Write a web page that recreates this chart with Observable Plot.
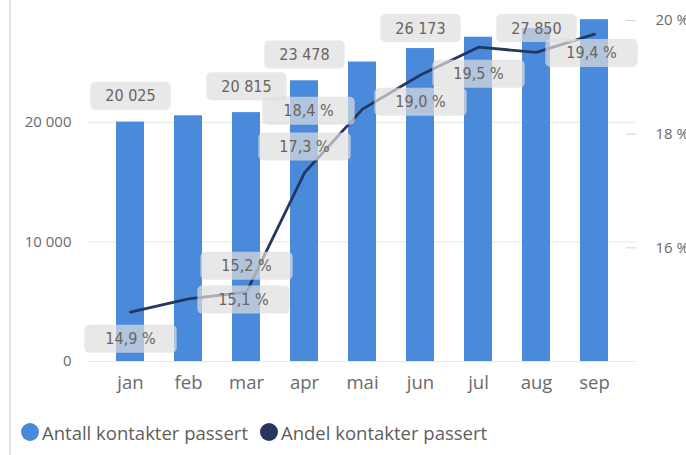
<!DOCTYPE html>
<html><head><meta charset="utf-8">
<script src="https://cdn.jsdelivr.net/npm/d3@7"></script>
<script src="https://cdn.jsdelivr.net/npm/@observablehq/plot@0.6"></script>
<style>
body{margin:0;background:#fff;}
#wrap{position:relative;width:686px;height:455px;overflow:hidden;font-family:"Open Sans",sans-serif;}
#border{position:absolute;left:9px;top:0;width:2px;height:455px;background:#e2e2e2;}
#chart{position:absolute;left:0;top:0;}
#legend{position:absolute;left:21px;top:420px;height:24px;display:flex;align-items:center;font-size:18.5px;color:#605E5C;white-space:nowrap;}
.item{display:flex;align-items:center;margin-right:12px;}
.sw{width:18px;height:18px;border-radius:50%;display:inline-block;margin-right:3px;}
</style></head><body>
<div id="wrap"><div id="border"></div><div id="chart"></div><div id="legend"></div></div>
<script>
// ---- data ----
const months = ["jan","feb","mar","apr","mai","jun","jul","aug","sep"];
const antall = [20025, 20550, 20815, 23478, 25050, 26173, 27120, 27850, 28590];
const andel  = [14.87, 15.10, 15.22, 17.32, 18.44, 19.04, 19.53, 19.44, 19.76];
const countTicks = [0, 10000, 20000];
const pctTicks = [16, 18, 20];
const seriesNames = ["Antall kontakter passert", "Andel kontakter passert"];
const countLabelMonths = ["jan","mar","apr","jun","aug"];
const pctLabelMonths = ["jan","feb","mar","apr","mai","jun","jul","aug"];

// ---- style / layout ----
const barColor = "#4A8ADB", lineColor = "#27365F";
const W = 686, H = 405, mT = 20, mB = 44, mL = 88, mR = 51;
const yMax = 28520, pctMin = 14, pctMax = 20;
const toY = p => (p - pctMin) / (pctMax - pctMin) * yMax;
const fromY = v => v / yMax * (pctMax - pctMin) + pctMin;
const pctPlacement = {jan:"below", feb:"right", mar:"above", apr:"above", mai:"left", jun:"below", jul:"below", aug:"right"};
const labelFont = "'DejaVu Sans Condensed','Liberation Sans Narrow',sans-serif";
const labelFill = "#6a645e";

const nb = d3.formatLocale({decimal: ",", thousands: "\u00a0", grouping: [3], currency: ["", " kr"]});
const fmtCount = nb.format(",d");
const fmt1 = nb.format(".1f");
const fmtPct = v => fmt1(v) + " %";

const data = months.map((m, i) => ({month: m, antall: antall[i], andel: andel[i]}));
const yS = Plot.scale({y: {domain: [0, yMax], range: [H - mB, mT]}});
const capY = yS.invert(mT + 8 + 26);
const countLabels = data.filter(d => countLabelMonths.includes(d.month));
const pctLabels = data.filter(d => pctLabelMonths.includes(d.month));
const byPlace = p => pctLabels.filter(d => pctPlacement[d.month] === p);
const textOpts = {fontFamily: labelFont, fontSize: 16, fill: labelFill};

const plot = Plot.plot({
  width: W, height: H,
  marginTop: mT, marginBottom: mB, marginLeft: mL, marginRight: mR,
  style: {fontFamily: "'Open Sans',sans-serif", background: "transparent"},
  x: {type: "band", domain: months, paddingInner: 0.52, paddingOuter: 0.42, label: null},
  y: {domain: [0, yMax], label: null},
  marks: [
    Plot.gridY(countTicks, {stroke: "#e6e6e6", strokeOpacity: 1}),
    Plot.barY(data, {x: "month", y: "antall", fill: barColor}),
    Plot.axisY(countTicks, {anchor: "left", tickSize: 0, tickPadding: 17, tickFormat: fmtCount, fontSize: 15, fill: "#6a6a6a", label: null}),
    Plot.axisY(pctTicks.map(toY), {anchor: "right", tickSize: 10, dx: -10, tickPadding: 20, stroke: "#d4d4d4", fill: "#6a6a6a", fontSize: 15, label: null,
      tickFormat: v => Math.round(fromY(v)) + " %"}),
    Plot.axisX({tickSize: 0, tickPadding: 14, fontSize: 18.5, fill: "#6a6a6a", label: null}),
    Plot.lineY(data, {x: "month", y: d => toY(d.andel), stroke: lineColor, strokeWidth: 2.8}),
    Plot.text(countLabels, {x: "month", y: d => Math.min(d.antall, capY), dy: -26, text: d => fmtCount(d.antall), ...textOpts}),
    Plot.text(byPlace("below"), {x: "month", y: d => toY(d.andel), dy: 27, text: d => fmtPct(d.andel), ...textOpts}),
    Plot.text(byPlace("above"), {x: "month", y: d => toY(d.andel), dy: -26, text: d => fmtPct(d.andel), ...textOpts}),
    Plot.text(byPlace("right"), {x: "month", y: d => toY(d.andel), dx: 55, dy: 1, text: d => fmtPct(d.andel), ...textOpts}),
    Plot.text(byPlace("left"), {x: "month", y: d => toY(d.andel), dx: -54, dy: 2, text: d => fmtPct(d.andel), ...textOpts})
  ]
});
document.getElementById("chart").append(plot);

// label background boxes (one per data label text)
const labelGroups = plot.querySelectorAll('g[aria-label="text"]');
labelGroups.forEach((g, gi) => {
  const padX = gi === 0 ? 15 : 21;
  for (const t of g.querySelectorAll("text")) {
    const b = t.getBBox();
    const r = document.createElementNS("http://www.w3.org/2000/svg", "rect");
    r.setAttribute("x", b.x - padX);
    r.setAttribute("width", b.width + 2 * padX);
    r.setAttribute("y", b.y + b.height / 2 - 14);
    r.setAttribute("height", 28);
    r.setAttribute("rx", 5);
    r.setAttribute("fill", "#dedede");
    r.setAttribute("fill-opacity", 0.7);
    r.setAttribute("stroke", "none");
    if (t.getAttribute("transform")) r.setAttribute("transform", t.getAttribute("transform"));
    t.parentNode.insertBefore(r, t);
  }
});

// legend
const legend = document.getElementById("legend");
[[seriesNames[0], barColor], [seriesNames[1], lineColor]].forEach(([name, c]) => {
  const it = document.createElement("div"); it.className = "item";
  const sw = document.createElement("span"); sw.className = "sw"; sw.style.background = c;
  const tx = document.createElement("span"); tx.textContent = name;
  it.append(sw, tx); legend.append(it);
});
</script>
</body></html>
